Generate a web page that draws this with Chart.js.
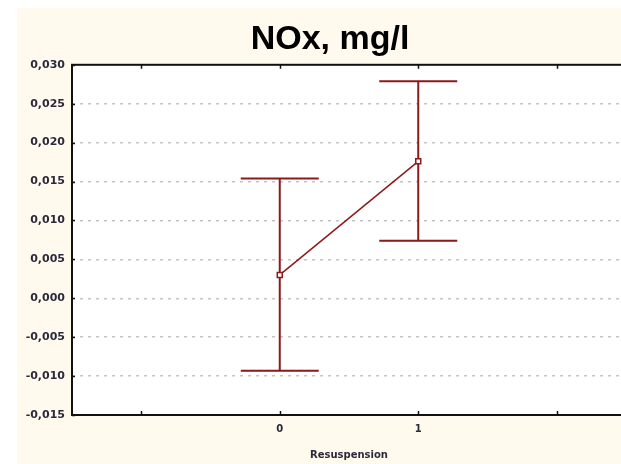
<!DOCTYPE html>
<html>
<head>
<meta charset="utf-8">
<script src="https://cdn.jsdelivr.net/npm/chart.js@4"></script>
<style>
  html, body { margin: 0; padding: 0; background: #fff; overflow: hidden; }
  body { width: 621px; height: 464px; position: relative; }
  #wrap { position: absolute; left: 17px; top: 8px; width: 626px; height: 456px; }
</style>
</head>
<body>
<div id="wrap"><canvas id="c" width="626" height="456"></canvas></div>
<script>
// Resuspension groups, mean NOx and the whisker ends
const groups = [0, 1];
const means = [0.0030, 0.0176];
const lower = [-0.0093, 0.0074];
const upper = [0.0154, 0.0279];
const yTicks = [-0.015, -0.010, -0.005, 0.000, 0.005, 0.010, 0.015, 0.020, 0.025, 0.030];
const xTicks = [-1, 0, 1, 2];

const RED = "#8b1a1a";
const LABEL = "#2a2a3a";

// whiskers with caps, placed through the chart scales
const errorBars = {
  id: "errorBars",
  beforeDatasetsDraw(chart) {
    const { ctx, scales: { x, y } } = chart;
    ctx.save();
    ctx.strokeStyle = RED;
    ctx.lineWidth = 2;
    groups.forEach((g, i) => {
      const px = x.getPixelForValue(g);
      const top = y.getPixelForValue(upper[i]);
      const bot = y.getPixelForValue(lower[i]);
      ctx.beginPath();
      ctx.moveTo(px, top); ctx.lineTo(px, bot);
      ctx.moveTo(px - 39, top); ctx.lineTo(px + 39, top);
      ctx.moveTo(px - 39, bot); ctx.lineTo(px + 39, bot);
      ctx.stroke();
    });
    ctx.restore();
  },
};

// plot frame plus small inward tick marks
const frame = {
  id: "frame",
  afterDraw(chart) {
    const { ctx, chartArea: a, scales: { x, y } } = chart;
    ctx.save();
    ctx.strokeStyle = "#111";
    ctx.lineWidth = 2;
    ctx.strokeRect(a.left, a.top, a.right - a.left, a.bottom - a.top);
    ctx.lineWidth = 1.5;
    ctx.beginPath();
    xTicks.forEach((v) => {
      const px = Math.round(x.getPixelForValue(v)) + 0.5;
      ctx.moveTo(px, a.bottom); ctx.lineTo(px, a.bottom - 4);
      ctx.moveTo(px, a.top); ctx.lineTo(px, a.top + 4);
    });
    yTicks.forEach((v) => {
      const py = Math.round(y.getPixelForValue(v)) + 0.5;
      ctx.moveTo(a.left, py); ctx.lineTo(a.left + 3, py);
    });
    ctx.stroke();
    ctx.restore();
  },
};

const cream = {
  id: "cream",
  beforeDraw(chart) {
    const { ctx, width, height, chartArea: a } = chart;
    ctx.save();
    ctx.fillStyle = "#fff9ee";
    ctx.fillRect(0, 0, width, height);
    ctx.fillStyle = "#ffffff";
    ctx.fillRect(a.left, a.top, a.right - a.left, a.bottom - a.top);
    ctx.restore();
  },
};

new Chart(document.getElementById("c"), {
  type: "line",
  data: {
    datasets: [
      {
        data: groups.map((g, i) => ({ x: g, y: means[i] })),
        borderColor: RED,
        borderWidth: 1.5,
        pointStyle: "rect",
        pointRadius: 3.5,
        pointBorderWidth: 1.5,
        pointBackgroundColor: "#ffffff",
        pointBorderColor: RED,
        tension: 0,
      },
    ],
  },
  options: {
    responsive: false,
    animation: false,
    layout: { padding: 0 },
    plugins: {
      legend: { display: false },
      tooltip: { enabled: false },
      title: {
        display: true,
        text: "NOx, mg/l",
        color: "#000",
        font: { family: "Liberation Sans", size: 34, weight: "bold" },
        padding: { top: 11, bottom: 5 },
      },
    },
    scales: {
      x: {
        type: "linear",
        min: -1.5,
        max: 2.5,
        afterBuildTicks(axis) {
          axis.ticks = xTicks.map((v) => ({ value: v }));
        },
        afterFit(axis) { axis.height = 49; },
        grid: { display: false, drawTicks: false },
        border: { display: false },
        ticks: {
          padding: 8,
          color: LABEL,
          font: { family: "DejaVu Sans", size: 10, weight: "bold" },
          callback: (v) => (groups.includes(v) ? String(v) : ""),
        },
        title: {
          display: true,
          text: "Resuspension",
          color: LABEL,
          font: { family: "DejaVu Sans", size: 10, weight: "bold" },
          padding: { top: 0, bottom: 3 },
        },
      },
      y: {
        min: -0.015,
        max: 0.030,
        afterBuildTicks(axis) {
          axis.ticks = yTicks.map((v) => ({ value: v }));
        },
        afterFit(axis) { axis.width = 55; },
        grid: {
          drawTicks: false,
          color: (c) => (c.tick.value === 0.030 || c.tick.value === -0.015 ? "rgba(0,0,0,0)" : "#c4c4c4"),
          lineWidth: 1.5,
        },
        border: { display: false, dash: [3, 5] },
        ticks: {
          padding: 7,
          color: LABEL,
          font: { family: "DejaVu Sans", size: 11, weight: "bold" },
          callback: (v) => v.toFixed(3).replace(".", ","),
        },
      },
      // empty strip on the right, off the visible page
      yRight: {
        position: "right",
        display: true,
        min: 0,
        max: 1,
        afterFit(axis) { axis.width = 17; },
        grid: { display: false, drawTicks: false },
        border: { display: false },
        ticks: { display: false },
      },
    },
  },
  plugins: [cream, errorBars, frame],
});
</script>
</body>
</html>
